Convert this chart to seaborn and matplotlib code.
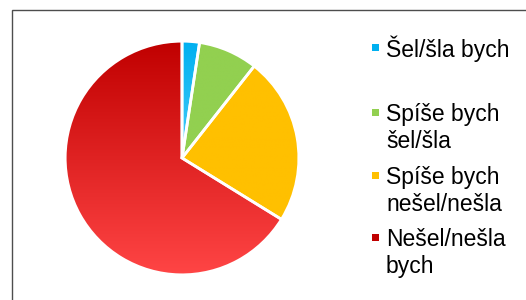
import numpy as np
import seaborn as sns
import matplotlib.pyplot as plt
from matplotlib.colors import LinearSegmentedColormap
from matplotlib.patches import Rectangle

sns.set_style("white")
plt.rcParams['font.family'] = ['Liberation Sans', 'DejaVu Sans']

# data (share of answers)
labels = ['Šel/šla bych', 'Spíše bych\nšel/šla', 'Spíše bych\nnešel/nešla', 'Nešel/nešla\nbych']
values = [2.4, 8.2, 23.2, 66.2]
# gradient top -> bottom for each slice
grad_top = ['#00B0F0', '#92D050', '#FFC000', '#C00000']
grad_bottom = ['#48CCF8', '#92D050', '#FFC000', '#FF4545']

fig = plt.figure(figsize=(5.26, 3.0), dpi=100)
ax = fig.add_axes([0.1217, 0.08, 0.4487, 0.7867])

wedges, _ = ax.pie(values, startangle=90, counterclock=False, radius=1,
                   wedgeprops=dict(edgecolor='white', linewidth=2))
ax.set_aspect('equal')
ax.axis('off')

# gradient fill inside every wedge
for w, c0, c1 in zip(wedges, grad_top, grad_bottom):
    w.set_facecolor('none')
    bb = w.get_path().get_extents()
    cmap = LinearSegmentedColormap.from_list('g', [c0, c1])
    grad = np.linspace(0, 1, 256).reshape(-1, 1)
    im = ax.imshow(grad, cmap=cmap, extent=(-1.05, 1.05, bb.y0, bb.y1),
                   origin='upper', aspect='auto', zorder=w.get_zorder() - 0.1)
    im.set_clip_path(w)
ax.set_xlim(-1.01, 1.01)
ax.set_ylim(-1.01, 1.01)

# legend drawn by hand so markers sit on the first line
W, H = 526, 300
baselines = [56.7, 121.7, 184.5, 246.7]
step = 26.5
for lab, y, c0, c1 in zip(labels, baselines, grad_top, grad_bottom):
    fig.add_artist(Rectangle((372 / W, 1 - (y - 5.5) / H), 7 / W, 7 / H,
                             transform=fig.transFigure, facecolor=c0,
                             edgecolor='none'))
    y_last = y + step * lab.count('\n')
    fig.text(386 / W, 1 - y_last / H, lab, fontsize=16.5, va='baseline',
             ha='left', color='black', linespacing=1.24)

# chart border
fig.add_artist(Rectangle((12 / W, -0.1), 1.0, (H - 9.5) / H + 0.1,
                         transform=fig.transFigure, fill=False,
                         edgecolor='#4d4d4d', linewidth=1))

fig.savefig('out.png', dpi=100)
